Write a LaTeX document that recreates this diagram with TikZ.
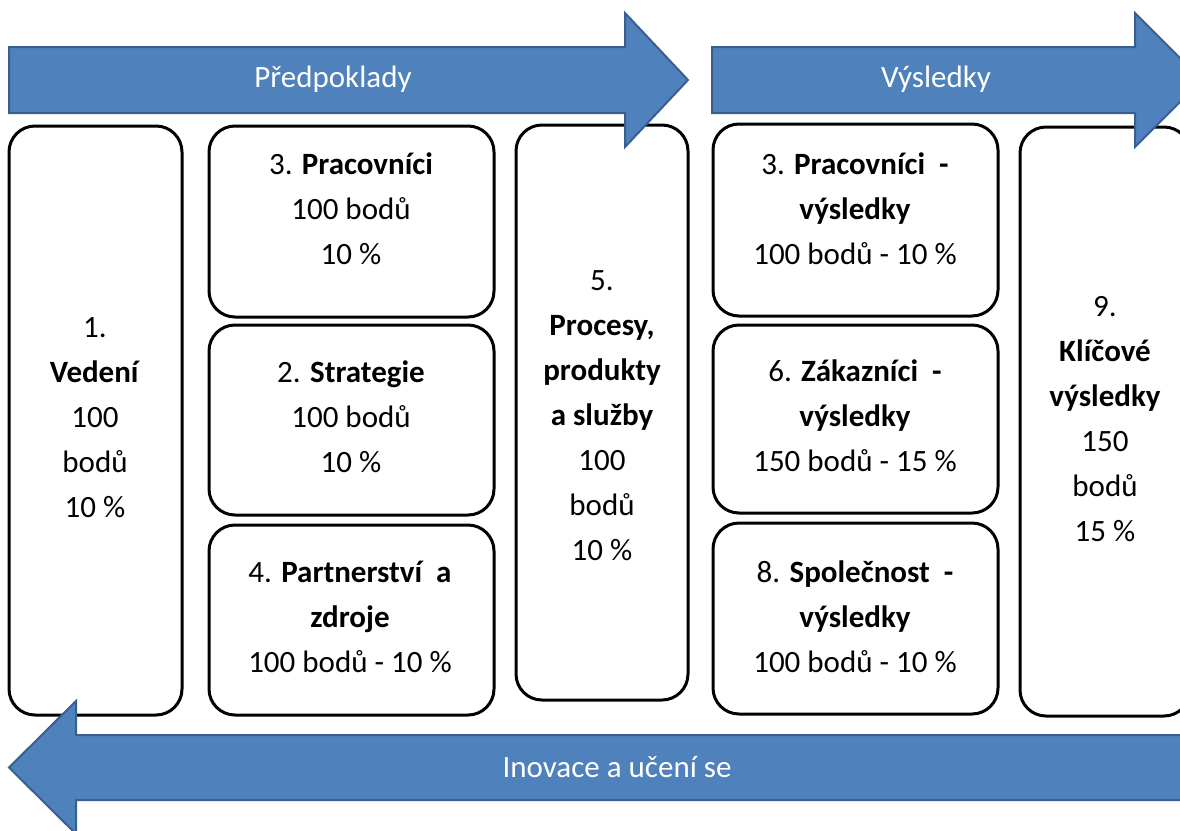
\documentclass[tikz,border=0pt]{standalone}
\usepackage{fontspec}
\setmainfont{Carlito}
\definecolor{arrfill}{HTML}{4F81BD}
\definecolor{arrline}{HTML}{3A5F8E}
\begin{document}
\begin{tikzpicture}[x=1pt,y=-1pt,
  box/.style={draw=black,line width=3pt,rounded corners=26pt,fill=white,inner sep=0pt},
  txt/.style={align=center,font=\fontsize{31}{45}\selectfont,text=black,inner sep=0pt},
  arr/.style={fill=arrfill,draw=arrline,line width=2pt,line join=miter},
  arrtxt/.style={font=\fontsize{31}{40}\selectfont,text=white,inner sep=0pt}]
\useasboundingbox (0,0) rectangle (1180,830);
\clip (0,0) rectangle (1180,830);
% boxes
\node[box,minimum width=173pt,minimum height=589pt] (b1) at (95.5,420.5) {};
\node[box,minimum width=285pt,minimum height=191pt] (b3) at (351.5,221.5) {};
\node[box,minimum width=285pt,minimum height=190pt] (b2) at (351.5,420) {};
\node[box,minimum width=285pt,minimum height=190pt] (b4) at (351.5,620) {};
\node[box,minimum width=172pt,minimum height=575pt] (b5) at (602,412.5) {};
\node[box,minimum width=285pt,minimum height=192pt] (b3r) at (855.5,220) {};
\node[box,minimum width=285pt,minimum height=188pt] (b6) at (855.5,419) {};
\node[box,minimum width=285pt,minimum height=191pt] (b8) at (855.5,618.5) {};
\node[box,minimum width=170pt,minimum height=589pt] (b9) at (1105,421.5) {};
% texts
\node[txt] (t1) at (95,418) {1.\\\textbf{Vedení}\\100\\bodů\\10 \%};
\node[txt] (t3) at (351,209) {3. \textbf{Pracovníci}\\100 bodů\\10 \%};
\node[txt] (t2) at (351,417) {2. \textbf{Strategie}\\100 bodů\\10 \%};
\node[txt] (t4) at (350,617) {4. \textbf{Partnerství\ \ a}\\\textbf{zdroje}\\100 bodů - 10 \%};
\node[txt] (t5) at (602,416) {5.\\\textbf{Procesy,}\\\textbf{produkty}\\\textbf{a služby}\\100\\bodů\\10 \%};
\node[txt] (t3r) at (855,209) {3. \textbf{Pracovníci\ \ -}\\\textbf{výsledky}\\100 bodů - 10 \%};
\node[txt] (t6) at (855,416) {6. \textbf{Zákazníci\ \ -}\\\textbf{výsledky}\\150 bodů - 15 \%};
\node[txt] (t8) at (855,617) {8. \textbf{Společnost\ \ -}\\\textbf{výsledky}\\100 bodů - 10 \%};
\node[txt] (t9) at (1105,419) {9.\\\textbf{Klíčové}\\\textbf{výsledky}\\150\\bodů\\15 \%};
% arrows
\draw[arr] (9,47) -- (625,47) -- (625,13) -- (688,80) -- (625,147) -- (625,113) -- (9,113) -- cycle;
\draw[arr] (712,47) -- (1135,47) -- (1135,13) -- (1202,80) -- (1135,147) -- (1135,113) -- (712,113) -- cycle;
\draw[arr] (1190,735) -- (76,735) -- (76,701) -- (9,767.5) -- (76,834) -- (76,800) -- (1190,800) -- cycle;
\node[arrtxt] (a1) at (333,79) {Předpoklady};
\node[arrtxt] (a2) at (936,79) {Výsledky};
\node[arrtxt] (a3) at (617,767) {Inovace a učení se};
\end{tikzpicture}
\end{document}
